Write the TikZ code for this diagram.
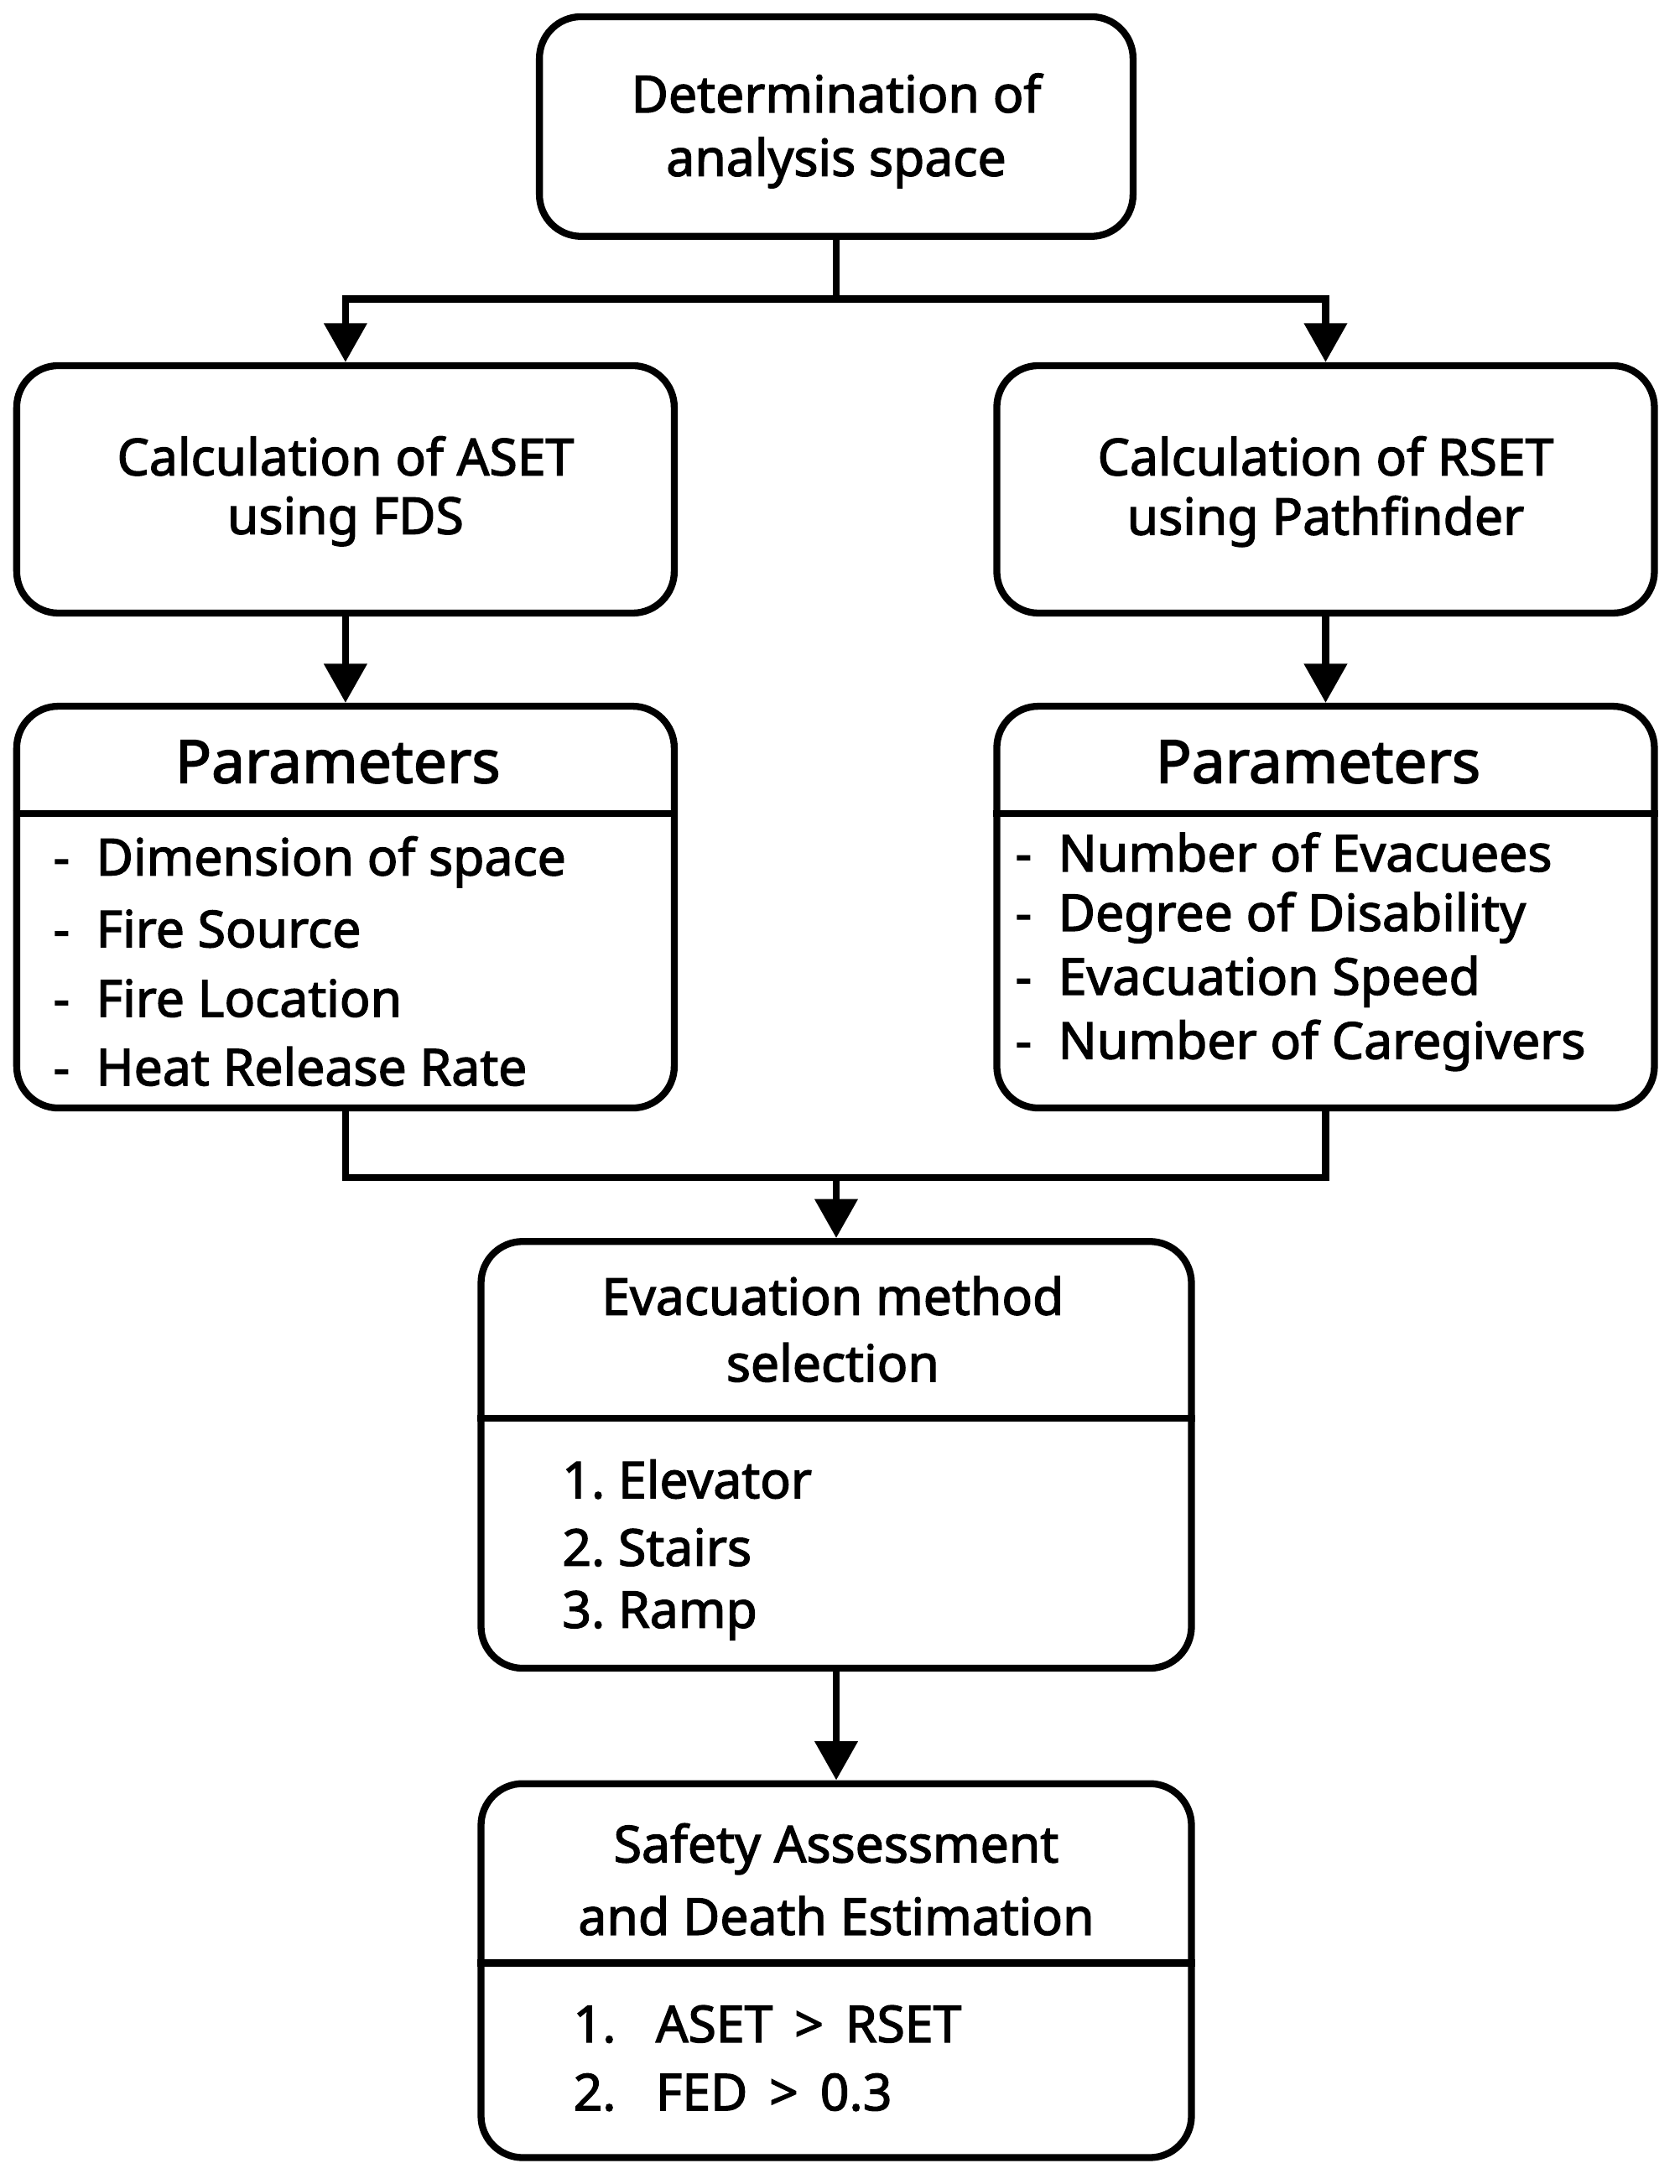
\documentclass[tikz,border=0pt]{standalone}
\usepackage{fontspec}
\setmainfont{Noto Sans}[AutoFakeBold=2.2]
\usetikzlibrary{arrows.meta}
\begin{document}
\begin{tikzpicture}[x=0.5pt,y=-0.5pt,
  box/.style={draw,line width=2.5pt,rounded corners=15pt,inner sep=0pt},
  t/.style={font=\bfseries\fontsize{18.3}{21}\selectfont,inner sep=0pt},
  tt/.style={font=\bfseries\fontsize{21.5}{25}\selectfont,inner sep=0pt},
  it/.style={font=\bfseries\fontsize{18.3}{21}\selectfont,inner sep=0pt,anchor=west},
  ln/.style={line width=2.5pt},
  ar/.style={line width=2.5pt,-{Triangle[length=14pt,width=15pt]}}]
\useasboundingbox (0,0) rectangle (1208,1571);
% boxes
\node[box,minimum width=213.5pt,minimum height=79pt] (top) at (601.5,91) {};
\node[box,minimum width=236.5pt,minimum height=89pt] (aset) at (248.5,352) {};
\node[box,minimum width=236.5pt,minimum height=89pt] (rset) at (953.5,352) {};
\node[box,minimum width=236.5pt,minimum height=144.5pt] (pl) at (248.5,652.5) {};
\node[box,minimum width=236.5pt,minimum height=144.5pt] (pr) at (953.5,652.5) {};
\node[box,minimum width=255.5pt,minimum height=153.5pt] (ev) at (601.5,1046.5) {};
\node[box,minimum width=255.5pt,minimum height=134.5pt] (sa) at (601.5,1417.5) {};
% dividers
\draw[ln] (pl.west |- 0,585) -- (pl.east |- 0,585);
\draw[ln] (pr.west |- 0,585) -- (pr.east |- 0,585);
\draw[ln] (ev.west |- 0,1020) -- (ev.east |- 0,1020);
\draw[ln] (sa.west |- 0,1412) -- (sa.east |- 0,1412);
% texts
\node[t] (t1) at (601.5,67) {Determination of};
\node[t] (t2) at (601.5,117) {analysis space};
\node[t] (a1) at (248.5,328) {Calculation of ASET};
\node[t] (a2) at (248.5,375) {using FDS};
\node[t] (r1) at (953.5,328) {Calculation of RSET};
\node[t] (r2) at (953.5,375) {using Pathfinder};
\node[tt] (plt) at (243,548) {Parameters};
\node[tt] (prt) at (948,548) {Parameters};
\node[it] (l1) at (38,620) {-\ \ Dimension of space};
\node[it] (l2) at (38,668) {-\ \ Fire Source};
\node[it] (l3) at (38,718) {-\ \ Fire Location};
\node[it] (l4) at (38,767) {-\ \ Heat Release Rate};
\node[it] (q1) at (730,613) {-\ \ Number of Evacuees};
\node[it] (q2) at (730,660) {-\ \ Degree of Disability};
\node[it] (q3) at (730,706) {-\ \ Evacuation Speed};
\node[it] (q4) at (730,752) {-\ \ Number of Caregivers};
\node[t] (e1) at (599,932) {Evacuation method};
\node[t] (e2) at (599,980) {selection};
\node[it] (e3) at (404,1064) {1.\ Elevator};
\node[it] (e4) at (404,1113) {2.\ Stairs};
\node[it] (e5) at (404,1162) {3.\ Ramp};
\node[t] (s1) at (601.5,1330) {Safety Assessment};
\node[t] (s2) at (601.5,1378) {and Death Estimation};
\node[it] (s3) at (412,1456) {1.\ \ \ ASET \,>\, RSET};
\node[it] (s4) at (412,1505) {2.\ \ \ FED \,>\, 0.3};
% connectors
\coordinate (j1) at (601.5,215);
\coordinate (j2) at (601.5,847);
\draw[ln] (top.south) -- (j1);
\draw[ar] (j1) -| (aset.north);
\draw[ar] (j1) -| (rset.north);
\draw[ar] (aset) -- (pl);
\draw[ar] (rset) -- (pr);
\draw[ln] (pl.south) |- (j2);
\draw[ln] (pr.south) |- (j2);
\draw[ar] (j2) -- (ev.north);
\draw[ar] (ev) -- (sa);
\end{tikzpicture}
\end{document}
